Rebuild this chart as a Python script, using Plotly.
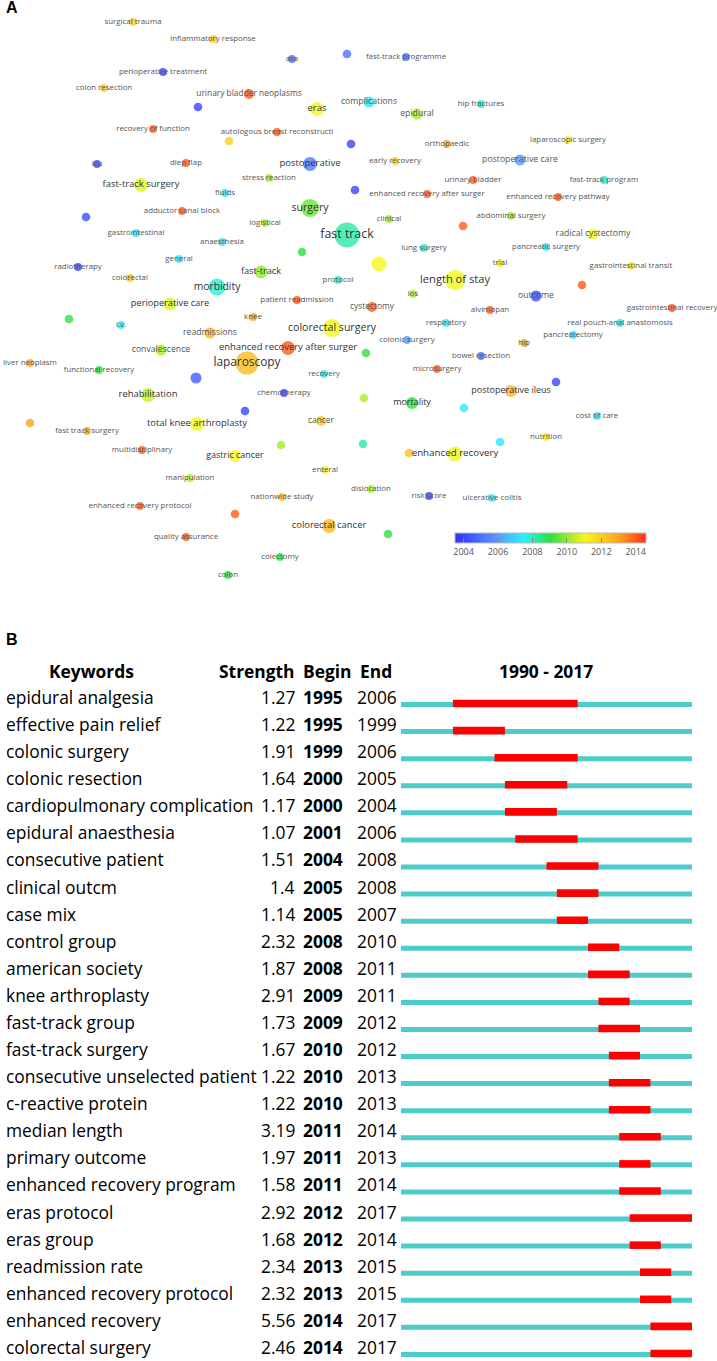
import numpy as np
import plotly.graph_objects as go

# ---- panel A: keyword overlay map (VOSviewer style) ----
kw_label = [
    "surgical trauma", "inflammatory response", "asa", "", "fast-track programme",
    "perioperative treatment", "colon resection", "urinary bladder neoplasms", "", "eras",
    "complications", "epidural", "hip fractures", "recovery of function", "autologous breast reconstructi",
    "", "", "orthopaedic", "laparoscopic surgery", "icu",
    "diep flap", "postoperative", "early recovery", "postoperative care", "stress reaction",
    "fast-track surgery", "fluids", "", "urinary bladder", "fast-track program",
    "enhanced recovery after surger", "enhanced recovery pathway", "surgery", "adductor canal block", "",
    "logistical", "clinical", "abdominal surgery", "", "fast track",
    "gastrointestinal", "radical cystectomy", "anaesthesia", "lung surgery", "pancreatic surgery",
    "", "general", "", "trial", "gastrointestinal transit",
    "radiotherapy", "colorectal", "fast-track", "length of stay", "",
    "morbidity", "protocol", "los", "outcome", "perioperative care",
    "patient readmission", "cystectomy", "alvimopan", "gastrointestinal recovery", "",
    "i.v.", "knee", "respiratory", "real pouch-anal anastomosis", "readmissions",
    "colorectal surgery", "pancreatectomy", "colonic surgery", "hip", "convalescence",
    "enhanced recovery after surger", "", "bowel resection", "laparoscopy", "liver neoplasm",
    "functional recovery", "", "recovery", "microsurgery", "",
    "rehabilitation", "chemotherapy", "postoperative ileus", "", "mortality",
    "", "", "", "total knee arthroplasty", "fast track surgery",
    "cancer", "cost of care", "nutrition", "", "",
    "multidisciplinary", "", "gastric cancer", "", "enhanced recovery",
    "enteral", "manipulation", "dislocation", "nationwide study", "risk score",
    "ulcerative colitis", "enhanced recovery protocol", "", "colorectal cancer", "",
    "quality assurance", "colectomy", "colon",
]
kw_x = [
    133, 213, 292, 347, 406, 163, 104, 249, 198, 317,
    369, 417, 481, 153, 277, 229, 351, 447, 568, 97,
    186, 310, 395, 520, 269, 141, 225, 355, 473, 604,
    427, 558, 310, 182, 86, 265, 389, 511, 463, 347,
    136, 593, 222, 424, 546, 302, 179, 379, 500, 631,
    78, 130, 261, 455, 582, 217, 338, 413, 536, 170,
    297, 372, 490, 672, 69, 121, 253, 446, 620, 210,
    332, 573, 407, 524, 161, 288, 366, 481, 247, 30,
    99, 196, 324, 437, 556, 148, 284, 511, 364, 412,
    464, 245, 30, 197, 87, 321, 597, 546, 363, 500,
    142, 281, 235, 409, 455, 325, 190, 371, 282, 429,
    492, 140, 235, 329, 388, 186, 280, 228,
]
kw_y = [
    22, 39, 59, 54, 57, 72, 88, 94, 107, 109,
    102, 114, 104, 129, 132, 141, 144, 144, 140, 164,
    163, 164, 161, 160, 178, 185, 193, 190, 180, 180,
    194, 197, 208, 211, 217, 223, 219, 216, 226, 235,
    233, 234, 242, 248, 247, 252, 259, 264, 263, 266,
    267, 278, 272, 280, 285, 287, 280, 294, 296, 304,
    300, 307, 310, 308, 319, 325, 317, 323, 323, 333,
    328, 335, 340, 343, 350, 348, 353, 356, 363, 363,
    370, 378, 374, 369, 382, 395, 393, 391, 398, 403,
    408, 411, 423, 424, 431, 421, 416, 437, 444, 442,
    450, 445, 456, 453, 454, 470, 478, 489, 497, 496,
    498, 506, 514, 526, 534, 537, 557, 575,
]
kw_year = [
    2012, 2012, 2005, 2005, 2005, 2004, 2012, 2014, 2004, 2011,
    2007.3, 2010.2, 2008, 2014, 2014, 2012, 2004, 2013, 2011.3, 2004,
    2014, 2005.2, 2012, 2006, 2010.2, 2010.8, 2007.3, 2004, 2014, 2008,
    2014, 2014, 2009.6, 2014, 2004.2, 2010.2, 2010.2, 2010.2, 2014, 2008.2,
    2007.3, 2011, 2007.3, 2008, 2007.3, 2009, 2007.3, 2011, 2011.3, 2011.3,
    2004, 2012.3, 2010, 2011, 2014, 2007.8, 2008, 2010.2, 2004.2, 2010.8,
    2014, 2014, 2014, 2014, 2009, 2007.3, 2013, 2007.3, 2007.3, 2012.6,
    2011, 2007.3, 2006, 2013, 2010.3, 2014, 2009, 2005, 2012.4, 2013,
    2009, 2004.5, 2007.3, 2014, 2004, 2010.6, 2004, 2012.5, 2010.3, 2009,
    2007.3, 2004, 2013, 2011, 2013, 2012.2, 2007.3, 2011.3, 2008.2, 2007.3,
    2014, 2010.2, 2011, 2012.3, 2011, 2011.3, 2010.3, 2010.3, 2012.2, 2004,
    2007.3, 2014, 2014, 2012.5, 2009, 2014, 2009, 2009,
]
kw_occ = [
    5, 5, 5, 6, 5, 5, 5, 8, 6, 16,
    10, 10, 5, 5, 5, 6, 6, 5, 5, 5,
    5, 16, 5, 10, 5, 16, 5, 6, 5, 5,
    5, 5, 28, 5, 6, 5, 5, 5, 6, 54,
    5, 10, 5, 5, 5, 6, 5, 19, 5, 5,
    5, 5, 14, 35, 6, 25, 5, 5, 10, 14,
    5, 8, 5, 5, 6, 5, 5, 5, 5, 10,
    28, 5, 5, 5, 10, 16, 6, 5, 46, 5,
    5, 10, 5, 5, 6, 16, 5, 12, 6, 12,
    6, 6, 6, 16, 5, 8, 5, 5, 6, 6,
    5, 6, 12, 6, 19, 5, 5, 5, 5, 5,
    5, 5, 6, 16, 6, 5, 5, 5,
]

# ---- panel B: strongest citation bursts ----
year_start, year_end = 1990, 2017
burst_kw = [
    "epidural analgesia", "effective pain relief", "colonic surgery", "colonic resection",
    "cardiopulmonary complication", "epidural anaesthesia", "consecutive patient", "clinical outcm",
    "case mix", "control group", "american society", "knee arthroplasty", "fast-track group",
    "fast-track surgery", "consecutive unselected patient", "c-reactive protein", "median length",
    "primary outcome", "enhanced recovery program", "eras protocol", "eras group",
    "readmission rate", "enhanced recovery protocol", "enhanced recovery", "colorectal surgery",
]
burst_strength = [1.27, 1.22, 1.91, 1.64, 1.17, 1.07, 1.51, 1.4, 1.14, 2.32, 1.87, 2.91, 1.73,
                  1.67, 1.22, 1.22, 3.19, 1.97, 1.58, 2.92, 1.68, 2.34, 2.32, 5.56, 2.46]
burst_begin = [1995, 1995, 1999, 2000, 2000, 2001, 2004, 2005, 2005, 2008, 2008, 2009, 2009,
               2010, 2010, 2010, 2011, 2011, 2011, 2012, 2012, 2013, 2013, 2014, 2014]
burst_end = [2006, 1999, 2006, 2005, 2004, 2006, 2008, 2008, 2007, 2010, 2011, 2011, 2012,
             2012, 2013, 2013, 2014, 2013, 2014, 2017, 2014, 2015, 2015, 2017, 2017]

W, H = 717, 1361
FONT_A = "Open Sans"
FONT_B = "Open Sans"

occ = np.array(kw_occ, dtype=float)
diam = 0.5 + 3.33 * np.sqrt(occ)
label_size = 7.9 + 0.265 * (diam - 8)
label_color = ["#333333" if d >= 12 else "#555555" for d in diam]

jet = [
    [0.0, "#3030ff"], [0.22, "#5a98ff"], [0.36, "#2af0ff"], [0.50, "#2ee03e"],
    [0.68, "#f8f81a"], [0.86, "#ffa020"], [1.0, "#ff3018"],
]

fig = go.Figure()

fig.add_trace(go.Scatter(
    x=kw_x, y=kw_y, mode="markers+text", text=kw_label,
    textposition="middle center",
    textfont=dict(family=FONT_A, size=label_size.tolist(), color=label_color),
    marker=dict(size=diam.tolist(), color=kw_year, colorscale=jet, cmin=2003.5, cmax=2014.6,
                opacity=0.8, line=dict(width=0),
                colorbar=dict(orientation="h", x=455 / W, xanchor="left",
                              y=1 - 533 / H, yanchor="top", len=191, lenmode="pixels",
                              thickness=10, xpad=0, ypad=0, outlinewidth=1, outlinecolor="#bbbbbb",
                              tickvals=list(range(2004, 2015, 2)), ticks="inside", ticklen=5,
                              tickcolor="#888888",
                              tickfont=dict(family=FONT_A, size=9, color="#555555"))),
    cliponaxis=False, hoverinfo="skip", xaxis="x", yaxis="y",
))

rows = list(range(len(burst_kw)))
n = len(rows)
fig.add_trace(go.Bar(
    orientation="h", y=rows, x=[year_end + 1 - year_start] * n, base=[year_start] * n,
    width=0.185, offset=-0.0925, marker=dict(color="#4ecbcb", line=dict(width=0)),
    hoverinfo="skip", xaxis="x2", yaxis="y2",
))
fig.add_trace(go.Bar(
    orientation="h", y=rows, x=[e + 1 - b for b, e in zip(burst_begin, burst_end)], base=burst_begin,
    width=0.28, offset=-0.175, marker=dict(color="#ff0000", line=dict(width=0)),
    hoverinfo="skip", xaxis="x2", yaxis="y2",
))

ann = []
fs = 17.4
ys = 7.5
for i, (k, s, b, e) in enumerate(zip(burst_kw, burst_strength, burst_begin, burst_end)):
    ann.append(dict(x=4 / W, y=i, xref="paper", yref="y2", text=k, xanchor="left",
                    yshift=ys, showarrow=False, font=dict(family=FONT_B, size=fs, color="black")))
    ann.append(dict(x=297 / W, y=i, xref="paper", yref="y2", text=f"{s:g}", xanchor="right",
                    yshift=ys, showarrow=False, font=dict(family=FONT_B, size=fs, color="black")))
    ann.append(dict(x=301 / W, y=i, xref="paper", yref="y2", text=f"<b>{b}</b>", xanchor="left",
                    yshift=ys, showarrow=False, font=dict(family=FONT_B, size=fs, color="black")))
    ann.append(dict(x=355 / W, y=i, xref="paper", yref="y2", text=str(e), xanchor="left",
                    yshift=ys, showarrow=False, font=dict(family=FONT_B, size=fs, color="black")))

headers = [("Keywords", 91, "center"), ("Strength", 297, "right"), ("Begin", 301, "left"),
           ("End", 376, "center"), (f"{year_start} - {year_end}", 546, "center")]
for t, xp, anc in headers:
    ann.append(dict(x=xp / W, y=-1, xref="paper", yref="y2", text=f"<b>{t}</b>", xanchor=anc,
                    yshift=ys - 1, showarrow=False, font=dict(family=FONT_B, size=fs, color="black")))

for t, yp in [("A", 8), ("B", 639)]:
    ann.append(dict(x=4 / W, y=1 - yp / H, xref="paper", yref="paper", text=f"<b>{t}</b>",
                    xanchor="left", yanchor="middle", showarrow=False,
                    font=dict(family="Liberation Sans", size=16, color="black")))

fig.update_layout(
    width=W, height=H, margin=dict(l=0, r=0, t=0, b=0),
    paper_bgcolor="white", plot_bgcolor="white", showlegend=False, barmode="overlay",
    annotations=ann,
    xaxis=dict(range=[0, W], domain=[0, 1], visible=False, fixedrange=True),
    yaxis=dict(range=[600, 0], domain=[1 - 600 / H, 1], visible=False, fixedrange=True),
    xaxis2=dict(range=[year_start - 401 / 10.393, year_end + 1 + 25 / 10.393], domain=[0, 1],
                anchor="y2", visible=False, fixedrange=True),
    yaxis2=dict(range=[(H - 704.5) / 27.08, (615 - 704.5) / 27.08], domain=[0, 1 - 615 / H],
                anchor="x2", visible=False, fixedrange=True),
)

# drop the browser's default page margin so the figure sits at the window's corner
fig.write_html("out.html", config={"displayModeBar": False},
               post_script="document.body.style.margin='0px';")
